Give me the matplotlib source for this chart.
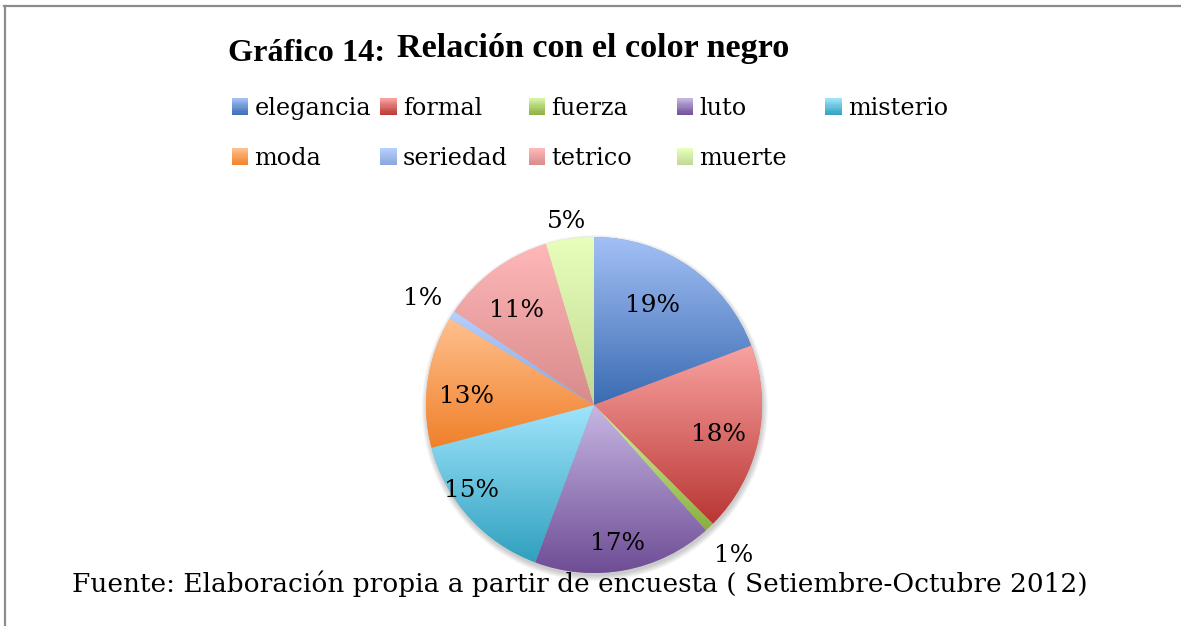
import matplotlib
matplotlib.use('Agg')
import numpy as np
import matplotlib.pyplot as plt
from matplotlib.patches import Rectangle, Circle
from matplotlib.lines import Line2D
from matplotlib.colors import to_rgb
from matplotlib.legend_handler import HandlerBase

# ---------------- data ----------------
categories = ['elegancia', 'formal', 'fuerza', 'luto', 'misterio',
              'moda', 'seriedad', 'tetrico', 'muerte']
values = [19.25, 18.25, 0.9, 17.3, 15.2, 12.7, 0.8, 11.0, 4.6]
top_colors = ['#A3C0F5', '#F9A3A1', '#D8F4A8', '#C7B6E2', '#A0E5FC',
              '#FFC08E', '#B6D0FF', '#FFB8B8', '#E8FFBC']
bottom_colors = ['#3A6BB2', '#B93633', '#8AAE3E', '#6E4D96', '#30A0BE',
                 '#F0802A', '#8AA6DA', '#D88A8A', '#C0D890']
title_prefix = 'Gráfico 14:'
title_text = 'Relación con el color negro'
source_text = 'Fuente: Elaboración propia a partir de encuesta ( Setiembre-Octubre 2012)'

# ---------------- layout ----------------
W, H, DPI = 1181, 626, 100
FONT = 'DejaVu Serif'
TFONT = 'Liberation Serif'
label_dist = [0.70, 0.76, 1.21, 0.82, 0.88, 0.76, 1.21, 0.74, 1.12]
label_dang = [5, 0, 0, -1, -8, 3, 0, 2, 0]

fig = plt.figure(figsize=(W / DPI, H / DPI), dpi=DPI)
fig.patch.set_facecolor('white')
renderer = fig.canvas.get_renderer()


def fit_size(s, target, **kw):
    t = fig.text(0, 0, s, fontsize=20, **kw)
    w = t.get_window_extent(renderer).width
    t.remove()
    return 20.0 * target / w


def fx(x):
    return x / W


def fy(y):
    return 1 - y / H


# border (top and left)
fig.add_artist(Line2D([fx(4), 1], [fy(6), fy(6)], transform=fig.transFigure,
                      color='#8C8C8C', lw=1.6))
fig.add_artist(Line2D([fx(5), fx(5)], [fy(6), 0], transform=fig.transFigure,
                      color='#8C8C8C', lw=1.6))

# titles
ts1 = fit_size(title_prefix, 157, family=TFONT, weight='bold')
fig.text(fx(228), fy(61), title_prefix, fontsize=ts1, family=TFONT,
         weight='bold', ha='left', va='baseline')
ts2 = fit_size(title_text, 393, family=TFONT, weight='bold')
fig.text(fx(397), fy(57), title_text, fontsize=ts2, family=TFONT,
         weight='bold', ha='left', va='baseline')

# source
ss = fit_size(source_text, 1013, family=FONT)
fig.text(fx(72), fy(592), source_text, fontsize=ss, family=FONT,
         ha='left', va='baseline', zorder=5)

# ---------------- pie ----------------
cx, cy, R = 594, 405, 168
half = 260
ax = fig.add_axes([fx(cx - half), (H - cy - half) / H, 2 * half / W, 2 * half / H])
wedges, _ = ax.pie(values, startangle=90, counterclock=False, radius=1,
                   wedgeprops=dict(linewidth=0))

# soft shadow
for k in range(6):
    ax.add_patch(Circle((0.005, -0.018), 1 + k * 0.006, facecolor='black',
                        edgecolor='none', alpha=0.035, zorder=0.1))

n = 256
tgrid = np.linspace(0, 1, n)[:, None]
for w, tc, bc in zip(wedges, top_colors, bottom_colors):
    ext = w.get_path().get_extents()
    img = (1 - tgrid) * np.array(to_rgb(tc)) + tgrid * np.array(to_rgb(bc))
    img = img[:, None, :]
    w.set_facecolor(tuple((np.array(to_rgb(tc)) + np.array(to_rgb(bc))) / 2))
    w.set_zorder(0.5)
    im = ax.imshow(img, extent=[ext.x0, ext.x1, ext.y0, ext.y1], origin='upper',
                   aspect='auto', interpolation='bilinear', zorder=1)
    im.set_clip_path(w)

ax.set_xlim(-half / R, half / R)
ax.set_ylim(-half / R, half / R)
ax.set_aspect('equal')
ax.axis('off')

ps = fit_size('19%', 55, family=FONT)
total = float(sum(values))
cum = 0.0
for v, d, da in zip(values, label_dist, label_dang):
    a0 = 90 - 360 * cum / total
    cum += v
    a1 = 90 - 360 * cum / total
    mid = np.deg2rad((a0 + a1) / 2 + da)
    ax.text(d * np.cos(mid), d * np.sin(mid), f'{100 * v / total:.0f}%',
            ha='center', va='center_baseline', fontsize=ps, family=FONT, zorder=3)

# ---------------- legend ----------------


class GradHandler(HandlerBase):
    def __init__(self, tc, bc):
        super().__init__()
        self.tc = np.array(to_rgb(tc))
        self.bc = np.array(to_rgb(bc))

    def create_artists(self, legend, orig_handle, xdescent, ydescent,
                       width, height, fontsize, trans):
        arts = []
        m = 14
        for k in range(m):
            f = (k + 0.5) / m
            col = tuple((1 - f) * self.bc + f * self.tc)
            arts.append(Rectangle((-xdescent, -ydescent + height * k / m), width,
                                  height / m * 1.05, facecolor=col,
                                  edgecolor='none', transform=trans))
        return arts


ls = fit_size('elegancia', 116, family=FONT)
pt2px = ls * DPI / 72.0
for i, (cat, tc, bc) in enumerate(zip(categories, top_colors, bottom_colors)):
    col, row = i % 5, i // 5
    x = 232 + 148.3 * col
    y = 108.5 + 50 * row
    h = Rectangle((0, 0), 1, 1)
    fig.legend([h], [cat], loc='center left', bbox_to_anchor=(fx(x), fy(y)),
               frameon=False, borderpad=0, borderaxespad=0,
               handlelength=16.5 / pt2px, handleheight=16.5 / pt2px,
               handletextpad=6 / pt2px,
               prop={'family': FONT, 'size': ls},
               handler_map={h: GradHandler(tc, bc)})

fig.savefig('out.png', dpi=DPI, facecolor='white')
